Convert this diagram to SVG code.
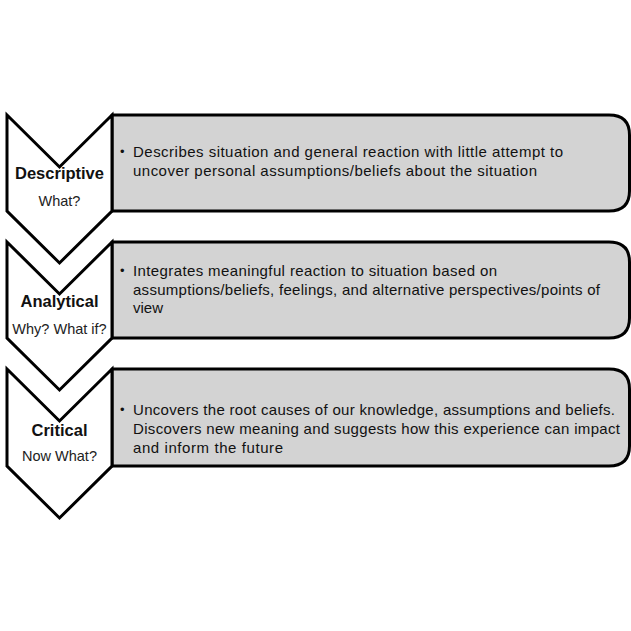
<svg xmlns="http://www.w3.org/2000/svg" width="631" height="631" viewBox="0 0 631 631">
<style>
.chev{fill:#ffffff;stroke:#000000;stroke-width:3;stroke-linejoin:miter}
.box{fill:#d3d3d3;stroke:#000000;stroke-width:3;stroke-linejoin:round}
.title{font-family:"Liberation Sans",Arial,sans-serif;font-weight:bold;font-size:16.5px;fill:#111111;text-anchor:middle}
.sub{font-family:"Liberation Sans",Arial,sans-serif;font-size:14.5px;fill:#222222;text-anchor:middle}
.body{font-family:"Liberation Sans",Arial,sans-serif;font-size:15px;fill:#111111}
.bul{font-family:"Liberation Sans",Arial,sans-serif;font-size:13px;fill:#111111}
</style>
<rect x="0" y="0" width="631" height="631" fill="#ffffff"/>
<g id="connectors"></g>
<g id="descriptive">
<path class="box" d="M112,115 H609 Q629.5,115 629.5,135 V191 Q629.5,211 609,211 H112 Z"/>
<path class="chev" d="M7,115 L59.5,167 L112,115 V211 L59.5,263 L7,211 Z"/>
<text class="title" x="59.5" y="179">Descriptive</text>
<text class="sub" x="59.5" y="206">What?</text>
<text class="bul" x="120" y="156">•</text>
<text class="body" x="133" y="157" textLength="430" lengthAdjust="spacing">Describes situation and general reaction with little attempt to</text>
<text class="body" x="133" y="176" textLength="404" lengthAdjust="spacing">uncover personal assumptions/beliefs about the situation</text>
</g>
<g id="analytical">
<path class="box" d="M112,242 H609 Q629.5,242 629.5,262 V318 Q629.5,338 609,338 H112 Z"/>
<path class="chev" d="M7,242 L59.5,294 L112,242 V338 L59.5,390 L7,338 Z"/>
<text class="title" x="59.5" y="307">Analytical</text>
<text class="sub" x="59.5" y="334">Why? What if?</text>
<text class="bul" x="120" y="275">•</text>
<text class="body" x="133" y="276" textLength="364" lengthAdjust="spacing">Integrates meaningful reaction to situation based on</text>
<text class="body" x="133" y="295" textLength="467" lengthAdjust="spacing">assumptions/beliefs, feelings, and alternative perspectives/points of</text>
<text class="body" x="133" y="313">view</text>
</g>
<g id="critical">
<path class="box" d="M112,369 H609 Q629.5,369 629.5,389 V446 Q629.5,466 609,466 H112 Z"/>
<path class="chev" d="M7,369 L59.5,421 L112,369 V466 L59.5,518 L7,466 Z"/>
<text class="title" x="59.5" y="436">Critical</text>
<text class="sub" x="59.5" y="461">Now What?</text>
<text class="bul" x="120" y="414">•</text>
<text class="body" x="133" y="415" textLength="482" lengthAdjust="spacing">Uncovers the root causes of our knowledge, assumptions and beliefs.</text>
<text class="body" x="133" y="434" textLength="487" lengthAdjust="spacing">Discovers new meaning and suggests how this experience can impact</text>
<text class="body" x="133" y="453" textLength="150" lengthAdjust="spacing">and inform the future</text>
</g>
</svg>
